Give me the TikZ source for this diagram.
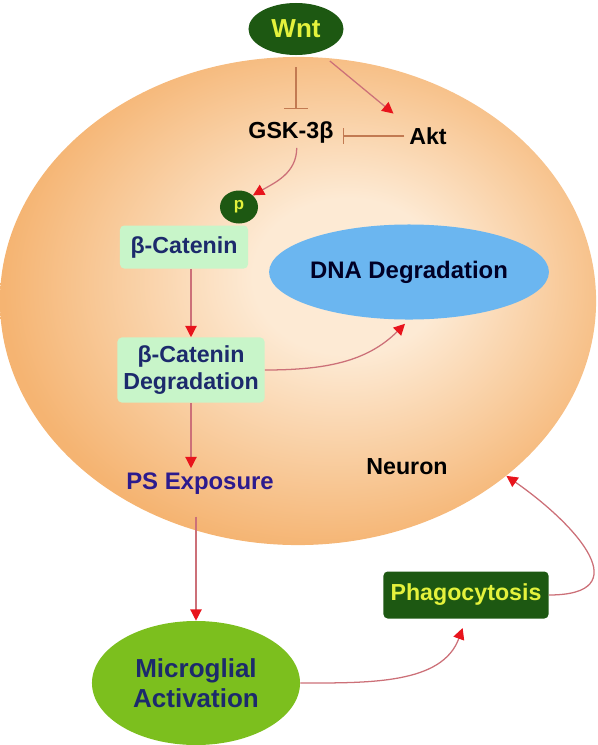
\documentclass[tikz,border=0pt]{standalone}
\usepackage{fontspec}
\setmainfont{Liberation Sans}
\usetikzlibrary{arrows.meta,shapes.geometric,positioning}

\definecolor{cellout}{HTML}{F5B472}
\definecolor{cellin}{HTML}{FDEAD4}
\definecolor{darkgreen}{HTML}{1D5812}
\definecolor{lime}{HTML}{E4F23C}
\definecolor{mint}{HTML}{C8F5C9}
\definecolor{navy}{HTML}{1C2A6C}
\definecolor{skyblue}{HTML}{6BB6F0}
\definecolor{leaf}{HTML}{7CBF1E}
\definecolor{indigo}{HTML}{2C1A8E}
\definecolor{arrowline}{HTML}{CC7078}
\definecolor{inhline}{HTML}{C27A52}
\definecolor{headred}{HTML}{E8141C}

\pgfdeclareradialshading{cellglow}{\pgfpoint{5bp}{3bp}}{color(0bp)=(cellin); color(8bp)=(cellin); color(27bp)=(cellout); color(50bp)=(cellout)}

\begin{document}
\begin{tikzpicture}[x=0.025cm, y=-0.025cm,
    every node/.style={font=\fontsize{16.5}{19}\selectfont\bfseries, align=center},
    act/.style={draw=arrowline, line width=0.9pt, -{Triangle[length=8pt,width=8pt,color=headred]}},
    inh/.style={draw=inhline, line width=0.9pt, -{Bar[width=#1,line width=0.9pt]}},
    box/.style={rectangle, rounded corners=3pt, inner sep=0pt}]

    \useasboundingbox (0,0) rectangle (598,745);

    % the neuron
    \node[ellipse, shading=cellglow, minimum width=14.9cm, minimum height=12.2cm, inner sep=0pt] (cell) at (298,301) {};
    \node (neuron) at (407,467) {Neuron};

    \node[ellipse, fill=darkgreen, text=lime, minimum width=2.375cm, minimum height=1.3cm, inner sep=0pt, font=\fontsize{18.5}{20}\selectfont\bfseries] (wnt) at (296,29) {Wnt};
    \node (gsk) at (291,132) {GSK-3β};
    \node (akt) at (428,136) {Akt};
    \node[ellipse, fill=darkgreen, text=lime, minimum width=0.95cm, minimum height=0.825cm, inner sep=0pt, font=\fontsize{12}{12}\selectfont\bfseries] (p) at (239,207) {p};
    \node[box, fill=mint, text=navy, minimum width=3.2cm, minimum height=1.075cm] (cat) at (184,247) {β-Catenin};
    \node[box, fill=mint, text=navy, minimum width=3.675cm, minimum height=1.625cm] (catdeg) at (191,370) {β-Catenin\\Degradation};
    \node[ellipse, fill=skyblue, text=black!85!blue, minimum width=5.55cm, minimum height=2.375cm, inner sep=0pt, font=\fontsize{17}{19}\selectfont\bfseries] (dna) at (409,272) {DNA Degradation};
    \node[text=indigo, font=\fontsize{17}{19}\selectfont\bfseries] (ps) at (200,484) {PS Exposure};

    % outside the cell
    \node[ellipse, fill=leaf, text=navy, minimum width=5.2cm, minimum height=3.1cm, inner sep=0pt, font=\fontsize{18.5}{21}\selectfont\bfseries] (micro) at (196,683) {Microglial\\Activation};
    \node[box, fill=darkgreen, text=lime, minimum width=4.125cm, minimum height=1.175cm] (phago) at (466,595) {Phagocytosis};

    % connectors
    \draw[inh=17pt, shorten <=8.5pt, shorten >=5pt] (wnt.south) -- (wnt.south |- gsk.north);
    \draw[act, shorten <=10pt, shorten >=10pt] (wnt.-45) -- (akt.north west);
    \draw[inh=11pt, shorten >=3pt] (akt.west) -- (akt.west -| gsk.east);
    \draw[act] (gsk.-70) to[out=-90, in=30] (p.40);
    \draw[act] (cat.south -| catdeg.north) -- (catdeg.north);
    \draw[act, shorten >=4pt] (catdeg.east) to[out=0, in=-135] (dna.south);
    \draw[act] (catdeg.south) -- (catdeg.south |- ps.north);
    \draw[act, shorten <=12pt] (ps.south -| micro.north) -- (micro.north);
    \draw[act, shorten >=7pt] (micro.east) to[out=0, in=-110] (phago.south);
    \draw[act] (phago.east) to[out=0, in=-35, looseness=1.8] (cell.-40);

\end{tikzpicture}
\end{document}
